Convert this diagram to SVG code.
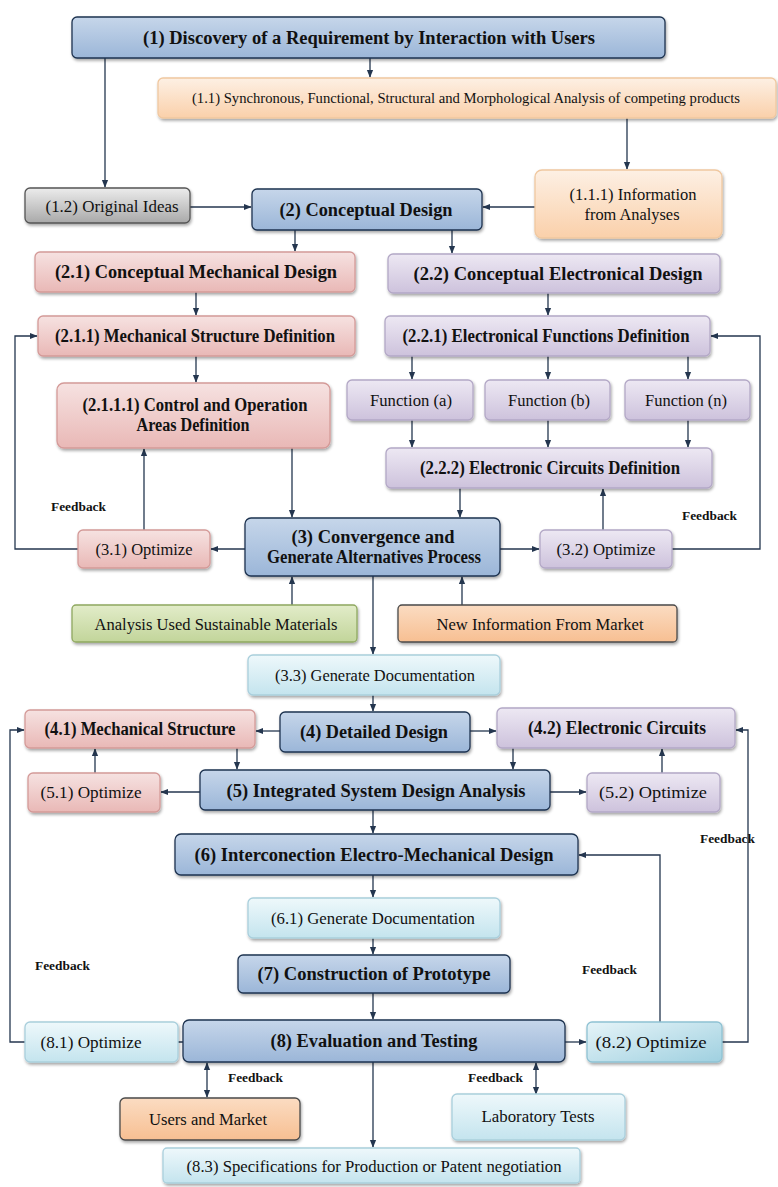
<svg xmlns="http://www.w3.org/2000/svg" width="778" height="1187" viewBox="0 0 778 1187" font-family="'Liberation Serif', 'Times New Roman', serif">
<defs>
<linearGradient id="gBlue" x1="0" y1="0" x2="0" y2="1"><stop offset="0" stop-color="#c6d6ea"/><stop offset="1" stop-color="#9bb6d8"/></linearGradient>
<linearGradient id="gPink" x1="0" y1="0" x2="0" y2="1"><stop offset="0" stop-color="#f6e2e1"/><stop offset="1" stop-color="#e9b8b6"/></linearGradient>
<linearGradient id="gLav" x1="0" y1="0" x2="0" y2="1"><stop offset="0" stop-color="#ede8f3"/><stop offset="1" stop-color="#cdc2dc"/></linearGradient>
<linearGradient id="gOr" x1="0" y1="0" x2="0" y2="1"><stop offset="0" stop-color="#fdf0e4"/><stop offset="1" stop-color="#fad0aa"/></linearGradient>
<linearGradient id="gGray" x1="0" y1="0" x2="0" y2="1"><stop offset="0" stop-color="#ececec"/><stop offset="1" stop-color="#a9a9a9"/></linearGradient>
<linearGradient id="gCyan" x1="0" y1="0" x2="0" y2="1"><stop offset="0" stop-color="#eef8fb"/><stop offset="1" stop-color="#c4e4ee"/></linearGradient>
<linearGradient id="gCyan2" x1="0" y1="0" x2="1" y2="1"><stop offset="0" stop-color="#e6f4f8"/><stop offset="1" stop-color="#9fd0e0"/></linearGradient>
<linearGradient id="gGreen" x1="0" y1="0" x2="0" y2="1"><stop offset="0" stop-color="#e2ecc9"/><stop offset="1" stop-color="#c2d59a"/></linearGradient>
<linearGradient id="gPeach" x1="0" y1="0" x2="0" y2="1"><stop offset="0" stop-color="#fbdcc2"/><stop offset="1" stop-color="#f7bf92"/></linearGradient>
<filter id="sh" x="-10%" y="-20%" width="120%" height="150%"><feDropShadow dx="1" dy="2" stdDeviation="1.5" flood-color="#000" flood-opacity="0.35"/></filter>
<marker id="ar" viewBox="0 0 10 10" refX="9" refY="5" markerWidth="6" markerHeight="6" orient="auto-start-reverse"><path d="M0,1 L10,5 L0,9 z" fill="#24364f"/></marker>
<style>
.b{stroke-width:1.3;filter:url(#sh)}
.blue{fill:url(#gBlue);stroke:#1e3350}
.pink{fill:url(#gPink);stroke:#d49a98}
.lav{fill:url(#gLav);stroke:#b3a8c6}
.or{fill:url(#gOr);stroke:#f0c8a0}
.gray{fill:url(#gGray);stroke:#555}
.cyan{fill:url(#gCyan);stroke:#a9cfdc}
.cyan2{fill:url(#gCyan2);stroke:#8fc2d3}
.green{fill:url(#gGreen);stroke:#8fa860}
.peach{fill:url(#gPeach);stroke:#4a4a4a}
text{font-family:"Liberation Serif","Times New Roman",serif;fill:#111111;text-anchor:middle;dominant-baseline:central}
.h{font-weight:bold;font-size:18px}
.r{font-size:16.5px}
.s{font-size:14.5px}
.fb{font-size:12px;font-weight:bold;text-anchor:start}
.c line,.c path,.c polyline{stroke:#24364f;stroke-width:1.3;fill:none}
</style>
</defs>
<rect width="778" height="1187" fill="#ffffff"/>

<g class="c" id="connectors">
<line x1="370" y1="58" x2="370" y2="77" marker-end="url(#ar)"/>
<line x1="105" y1="58" x2="105" y2="187" marker-end="url(#ar)"/>
<line x1="190" y1="207" x2="251" y2="207" marker-end="url(#ar)"/>
<line x1="627" y1="118" x2="627" y2="169" marker-end="url(#ar)"/>
<line x1="535" y1="207" x2="483" y2="207" marker-end="url(#ar)"/>
<line x1="295" y1="230" x2="295" y2="251" marker-end="url(#ar)"/>
<line x1="452" y1="230" x2="452" y2="253" marker-end="url(#ar)"/>
<line x1="196" y1="292" x2="196" y2="315" marker-end="url(#ar)"/>
<line x1="548" y1="293" x2="548" y2="315" marker-end="url(#ar)"/>
<line x1="196" y1="356" x2="196" y2="382" marker-end="url(#ar)"/>
<line x1="412" y1="356" x2="412" y2="379" marker-end="url(#ar)"/>
<line x1="548" y1="356" x2="548" y2="379" marker-end="url(#ar)"/>
<line x1="688" y1="356" x2="688" y2="379" marker-end="url(#ar)"/>
<line x1="412" y1="420" x2="412" y2="447" marker-end="url(#ar)"/>
<line x1="548" y1="420" x2="548" y2="447" marker-end="url(#ar)"/>
<line x1="688" y1="420" x2="688" y2="447" marker-end="url(#ar)"/>
<line x1="292" y1="448" x2="292" y2="517" marker-end="url(#ar)"/>
<line x1="460" y1="488" x2="460" y2="517" marker-end="url(#ar)"/>
<line x1="245" y1="549" x2="211" y2="549" marker-end="url(#ar)"/>
<line x1="144" y1="530" x2="144" y2="449" marker-end="url(#ar)"/>
<polyline points="78,549 15,549 15,336 37,336" marker-end="url(#ar)"/>
<line x1="500" y1="549" x2="539" y2="549" marker-end="url(#ar)"/>
<line x1="603" y1="530" x2="603" y2="489" marker-end="url(#ar)"/>
<polyline points="672,549 760,549 760,336 711,336" marker-end="url(#ar)"/>
<line x1="292" y1="605" x2="292" y2="577" marker-end="url(#ar)"/>
<line x1="462" y1="605" x2="462" y2="577" marker-end="url(#ar)"/>
<line x1="373" y1="576" x2="373" y2="654" marker-end="url(#ar)"/>
<line x1="373" y1="695" x2="373" y2="711" marker-end="url(#ar)"/>
<line x1="280" y1="731" x2="256" y2="731" marker-end="url(#ar)"/>
<line x1="470" y1="731" x2="496" y2="731" marker-end="url(#ar)"/>
<line x1="237" y1="748" x2="237" y2="769" marker-end="url(#ar)"/>
<line x1="513" y1="748" x2="513" y2="769" marker-end="url(#ar)"/>
<line x1="200" y1="792" x2="161" y2="792" marker-end="url(#ar)"/>
<line x1="95" y1="773" x2="95" y2="749" marker-end="url(#ar)"/>
<line x1="550" y1="792" x2="586" y2="792" marker-end="url(#ar)"/>
<line x1="662" y1="773" x2="662" y2="749" marker-end="url(#ar)"/>
<line x1="373" y1="810" x2="373" y2="833" marker-end="url(#ar)"/>
<line x1="373" y1="875" x2="373" y2="897" marker-end="url(#ar)"/>
<line x1="373" y1="938" x2="373" y2="954" marker-end="url(#ar)"/>
<line x1="373" y1="993" x2="373" y2="1019" marker-end="url(#ar)"/>
<line x1="183" y1="1042" x2="148" y2="1042" marker-end="url(#ar)"/>
<polyline points="25,1042 10,1042 10,730 24,730" marker-end="url(#ar)"/>
<line x1="565" y1="1042" x2="586" y2="1042" marker-end="url(#ar)"/>
<polyline points="722,1042 748,1042 748,730 736,730" marker-end="url(#ar)"/>
<polyline points="660,1022 660,855 579,855" marker-end="url(#ar)"/>
<line x1="207" y1="1063" x2="207" y2="1097" marker-start="url(#ar)" marker-end="url(#ar)"/>
<line x1="536" y1="1063" x2="536" y2="1094" marker-start="url(#ar)" marker-end="url(#ar)"/>
<line x1="373" y1="1062" x2="373" y2="1147" marker-end="url(#ar)"/>
</g>

<g id="feedback-labels">
<text class="fb" x="51" y="507" textLength="55" lengthAdjust="spacingAndGlyphs">Feedback</text>
<text class="fb" x="682" y="516" textLength="55" lengthAdjust="spacingAndGlyphs">Feedback</text>
<text class="fb" x="700" y="839" textLength="55" lengthAdjust="spacingAndGlyphs">Feedback</text>
<text class="fb" x="35" y="966" textLength="55" lengthAdjust="spacingAndGlyphs">Feedback</text>
<text class="fb" x="582" y="970" textLength="55" lengthAdjust="spacingAndGlyphs">Feedback</text>
<text class="fb" x="228" y="1078" textLength="55" lengthAdjust="spacingAndGlyphs">Feedback</text>
<text class="fb" x="468" y="1078" textLength="55" lengthAdjust="spacingAndGlyphs">Feedback</text>
</g>

<g id="n1"><rect class="b blue" x="72" y="17" width="593" height="41" rx="5"/><text class="h" x="369" y="38" textLength="452" lengthAdjust="spacingAndGlyphs">(1) Discovery of a Requirement by Interaction with Users</text></g>
<g id="n1_1"><rect class="b or" x="158" y="78" width="618" height="40" rx="5"/><text class="s" x="466" y="98" textLength="548" lengthAdjust="spacingAndGlyphs">(1.1) Synchronous, Functional, Structural and Morphological Analysis of competing products</text></g>
<g id="n1_2"><rect class="b gray" x="25" y="188" width="165" height="35" rx="5"/><text class="r" x="112" y="206" textLength="133" lengthAdjust="spacingAndGlyphs">(1.2) Original Ideas</text></g>
<g id="n2"><rect class="b blue" x="252" y="189" width="230" height="41" rx="5"/><text class="h" x="366" y="210" textLength="173" lengthAdjust="spacingAndGlyphs">(2) Conceptual Design</text></g>
<g id="n1_1_1"><rect class="b or" x="535" y="170" width="187" height="68" rx="7"/><text class="r" x="633" y="194" textLength="127" lengthAdjust="spacingAndGlyphs">(1.1.1) Information</text><text class="r" x="632" y="214" textLength="95" lengthAdjust="spacingAndGlyphs">from Analyses</text></g>
<g id="n2_1"><rect class="b pink" x="35" y="252" width="320" height="40" rx="5"/><text class="h" x="196" y="272" textLength="282" lengthAdjust="spacingAndGlyphs">(2.1) Conceptual Mechanical Design</text></g>
<g id="n2_2"><rect class="b lav" x="388" y="254" width="332" height="39" rx="5"/><text class="h" x="558" y="274" textLength="289" lengthAdjust="spacingAndGlyphs">(2.2) Conceptual Electronical Design</text></g>
<g id="n2_1_1"><rect class="b pink" x="38" y="316" width="317" height="40" rx="5"/><text class="h" x="195" y="336" textLength="280" lengthAdjust="spacingAndGlyphs">(2.1.1) Mechanical Structure Definition</text></g>
<g id="n2_2_1"><rect class="b lav" x="385" y="316" width="325" height="40" rx="5"/><text class="h" x="546" y="336" textLength="287" lengthAdjust="spacingAndGlyphs">(2.2.1) Electronical Functions Definition</text></g>
<g id="n2_1_1_1"><rect class="b pink" x="57" y="383" width="273" height="65" rx="7"/><text class="h" x="195" y="405" textLength="225" lengthAdjust="spacingAndGlyphs">(2.1.1.1) Control and Operation</text><text class="h" x="193" y="425" textLength="113" lengthAdjust="spacingAndGlyphs">Areas Definition</text></g>
<g id="fa"><rect class="b lav" x="347" y="380" width="126" height="40" rx="5"/><text class="r" x="411" y="400" textLength="82" lengthAdjust="spacingAndGlyphs">Function (a)</text></g>
<g id="fb"><rect class="b lav" x="485" y="380" width="125" height="40" rx="5"/><text class="r" x="549" y="400" textLength="82" lengthAdjust="spacingAndGlyphs">Function (b)</text></g>
<g id="fn"><rect class="b lav" x="625" y="380" width="125" height="40" rx="5"/><text class="r" x="686" y="400" textLength="82" lengthAdjust="spacingAndGlyphs">Function (n)</text></g>
<g id="n2_2_2"><rect class="b lav" x="386" y="448" width="326" height="40" rx="5"/><text class="h" x="550" y="468" textLength="260" lengthAdjust="spacingAndGlyphs">(2.2.2) Electronic Circuits Definition</text></g>
<g id="n3"><rect class="b blue" x="245" y="518" width="255" height="58" rx="6"/><text class="h" x="373" y="537" textLength="163" lengthAdjust="spacingAndGlyphs">(3) Convergence and</text><text class="h" x="374" y="557" textLength="214" lengthAdjust="spacingAndGlyphs">Generate Alternatives Process</text></g>
<g id="n3_1"><rect class="b pink" x="78" y="530" width="132" height="38" rx="5"/><text class="r" x="144" y="549" textLength="97" lengthAdjust="spacingAndGlyphs">(3.1) Optimize</text></g>
<g id="n3_2"><rect class="b lav" x="540" y="530" width="132" height="38" rx="5"/><text class="r" x="606" y="549" textLength="99" lengthAdjust="spacingAndGlyphs">(3.2) Optimize</text></g>
<g id="nasm"><rect class="b green" x="72" y="605" width="285" height="37" rx="4"/><text class="r" x="216" y="624" textLength="243" lengthAdjust="spacingAndGlyphs">Analysis Used Sustainable Materials</text></g>
<g id="nnim"><rect class="b peach" x="398" y="605" width="279" height="37" rx="4"/><text class="r" x="540" y="624" textLength="207" lengthAdjust="spacingAndGlyphs">New Information From Market</text></g>
<g id="n3_3"><rect class="b cyan" x="248" y="655" width="252" height="40" rx="5"/><text class="r" x="375" y="675" textLength="200" lengthAdjust="spacingAndGlyphs">(3.3) Generate Documentation</text></g>
<g id="n4"><rect class="b blue" x="280" y="712" width="190" height="40" rx="5"/><text class="h" x="374" y="732" textLength="148" lengthAdjust="spacingAndGlyphs">(4) Detailed Design</text></g>
<g id="n4_1"><rect class="b pink" x="25" y="710" width="230" height="38" rx="5"/><text class="h" x="140" y="729" textLength="191" lengthAdjust="spacingAndGlyphs">(4.1) Mechanical Structure</text></g>
<g id="n4_2"><rect class="b lav" x="497" y="708" width="238" height="40" rx="5"/><text class="h" x="617" y="728" textLength="178" lengthAdjust="spacingAndGlyphs">(4.2) Electronic Circuits</text></g>
<g id="n5"><rect class="b blue" x="200" y="770" width="350" height="40" rx="5"/><text class="h" x="376" y="791" textLength="299" lengthAdjust="spacingAndGlyphs">(5) Integrated System Design Analysis</text></g>
<g id="n5_1"><rect class="b pink" x="28" y="773" width="132" height="39" rx="5"/><text class="r" x="91" y="792" textLength="101" lengthAdjust="spacingAndGlyphs">(5.1) Optimize</text></g>
<g id="n5_2"><rect class="b lav" x="587" y="773" width="133" height="39" rx="5"/><text class="r" x="653" y="792" textLength="108" lengthAdjust="spacingAndGlyphs">(5.2) Optimize</text></g>
<g id="n6"><rect class="b blue" x="175" y="834" width="403" height="41" rx="6"/><text class="h" x="374" y="855" textLength="359" lengthAdjust="spacingAndGlyphs">(6) Interconection Electro-Mechanical Design</text></g>
<g id="n6_1"><rect class="b cyan" x="248" y="898" width="252" height="40" rx="5"/><text class="r" x="373" y="918" textLength="204" lengthAdjust="spacingAndGlyphs">(6.1) Generate Documentation</text></g>
<g id="n7"><rect class="b blue" x="238" y="955" width="272" height="38" rx="5"/><text class="h" x="374" y="974" textLength="233" lengthAdjust="spacingAndGlyphs">(7) Construction of Prototype</text></g>
<g id="n8"><rect class="b blue" x="183" y="1020" width="382" height="42" rx="6"/><text class="h" x="374" y="1041" textLength="207" lengthAdjust="spacingAndGlyphs">(8) Evaluation and Testing</text></g>
<g id="n8_1"><rect class="b cyan" x="25" y="1022" width="153" height="40" rx="5"/><text class="r" x="91" y="1042" textLength="101" lengthAdjust="spacingAndGlyphs">(8.1) Optimize</text></g>
<g id="n8_2"><rect class="b cyan2" x="587" y="1022" width="135" height="40" rx="5"/><text class="r" x="651" y="1042" textLength="111" lengthAdjust="spacingAndGlyphs">(8.2) Optimize</text></g>
<g id="num"><rect class="b peach" x="120" y="1098" width="180" height="42" rx="5"/><text class="r" x="208" y="1119" textLength="118" lengthAdjust="spacingAndGlyphs">Users and Market</text></g>
<g id="nlab"><rect class="b cyan" x="452" y="1094" width="173" height="46" rx="5"/><text class="r" x="538" y="1116" textLength="113" lengthAdjust="spacingAndGlyphs">Laboratory Tests</text></g>
<g id="n8_3"><rect class="b cyan" x="163" y="1148" width="417" height="35" rx="4"/><text class="r" x="374" y="1166" textLength="375" lengthAdjust="spacingAndGlyphs">(8.3) Specifications for Production or Patent negotiation</text></g>
</svg>
